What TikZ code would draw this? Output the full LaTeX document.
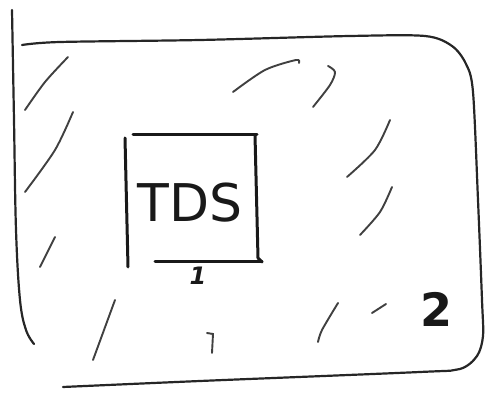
\documentclass[tikz,border=0pt]{standalone}
\usepackage{fontspec}
\setmainfont{DejaVu Sans}
\begin{document}
\begin{tikzpicture}[x=1pt,y=-1pt,
  pen/.style={draw=black!85,line width=2.2pt,line cap=round,line join=round},
  thickpen/.style={draw=black!90,line width=3pt,line cap=round,line join=round},
  hatch/.style={draw=black!75,line width=1.9pt,line cap=round},
  lbl/.style={inner sep=0pt,text=black!90}]
\useasboundingbox (0,0) rectangle (488,395);
% outer frame
\draw[pen] plot[smooth,tension=0.6] coordinates {(12,10) (14,120) (16,230) (20,300) (26,330) (34,344)};
\draw[pen] plot[smooth,tension=0.5] coordinates {(22,45) (60,42) (200,40) (350,36) (425,36) (452,46) (466,64) (473,92) (478,200) (482,300) (483,336) (477,356) (460,369) (420,372) (200,381) (63,387)};
% inner square
\draw[thickpen] (125,138) -- (128,267);
\draw[thickpen] (133,135) -- (257,135);
\draw[thickpen] (255,135) -- (258,258) -- (262,262);
\draw[thickpen] (155,262) -- (262,262);
\node[lbl,font=\fontsize{52}{52}\selectfont] (tds) at (190,203) {TDS};
\node[lbl,font=\fontsize{24}{24}\selectfont\bfseries\itshape] (one) at (198,276) {1};
\node[lbl,font=\fontsize{46}{46}\selectfont\bfseries] (two) at (437,309) {2};
% hatching
\draw[hatch] plot[smooth] coordinates {(25,110) (45,82) (68,57)};
\draw[hatch] plot[smooth] coordinates {(25,192) (55,150) (73,112)};
\draw[hatch] (40,267) -- (55,237);
\draw[hatch] (93,360) -- (115,300);
\draw[hatch] (212,353) -- (213,334) -- (207,333);
\draw[hatch] plot[smooth] coordinates {(318,342) (322,330) (338,303)};
\draw[hatch] (372,313) -- (386,304);
\draw[hatch] plot[smooth] coordinates {(233,92) (265,70) (296,60) (299,63)};
\draw[hatch] plot[smooth] coordinates {(313,107) (330,85) (335,72) (328,66)};
\draw[hatch] plot[smooth] coordinates {(347,177) (375,150) (390,120)};
\draw[hatch] plot[smooth] coordinates {(360,235) (380,212) (392,187)};
\end{tikzpicture}
\end{document}
